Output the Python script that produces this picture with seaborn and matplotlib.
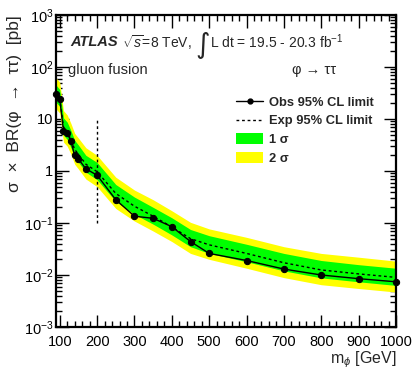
import numpy as np
import pandas as pd
import matplotlib
matplotlib.use("Agg")
import matplotlib.pyplot as plt
import seaborn as sns
from matplotlib.lines import Line2D
from matplotlib.patches import Patch
from matplotlib.ticker import FixedLocator, MultipleLocator, NullFormatter

# ---------------- data ----------------
mass = [90, 100, 110, 120, 130, 140, 150, 170, 200, 250, 300, 350, 400, 450, 500, 600, 700, 800, 900, 1000]
obs = [30, 24, 6.0, 5.4, 3.7, 2.0, 1.7, 1.1, 0.83, 0.28, 0.135, 0.123, 0.085, 0.044, 0.026, 0.019, 0.013, 0.010, 0.0085, 0.0074]
exp = [30, 25, 7.0, 5.8, 4.0, 2.6, 2.1, 1.35, 0.97, 0.37, 0.21, 0.135, 0.084, 0.050, 0.038, 0.026, 0.0172, 0.0125, 0.0105, 0.0090]
up2 = [62, 51, 14.5, 12, 8.2, 5.3, 4.3, 2.8, 2.0, 0.76, 0.43, 0.28, 0.172, 0.103, 0.077, 0.053, 0.035, 0.026, 0.022, 0.0185]
up1 = [45, 37, 10.5, 8.7, 6.0, 3.9, 3.15, 2.0, 1.46, 0.55, 0.315, 0.20, 0.126, 0.075, 0.057, 0.039, 0.026, 0.019, 0.0158, 0.0135]
dn1 = [21, 17.5, 4.9, 4.05, 2.8, 1.8, 1.47, 0.95, 0.68, 0.26, 0.147, 0.095, 0.059, 0.035, 0.026, 0.018, 0.012, 0.0088, 0.0074, 0.0063]
dn2 = [15.6, 13, 3.6, 3.0, 2.1, 1.35, 1.09, 0.70, 0.50, 0.19, 0.109, 0.070, 0.044, 0.026, 0.020, 0.0135, 0.0089, 0.0065, 0.0055, 0.0047]

split_mass = 200
split_range = [0.1, 10]

xticks = [100, 200, 300, 400, 500, 600, 700, 800, 900, 1000]
yticks = [1e-3, 1e-2, 1e-1, 1, 10, 1e2, 1e3]
ytick_labels = [r"$10^{-3}$", r"$10^{-2}$", r"$10^{-1}$", "1", "10", r"$10^{2}$", r"$10^{3}$"]

legend_labels = ["Obs 95% CL limit", "Exp 95% CL limit", "1 σ", "2 σ"]

df = pd.DataFrame({"mass": mass, "obs": obs, "exp": exp})

# ---------------- style ----------------
sns.set_style("ticks")
FONT = ["Liberation Sans", "DejaVu Sans"]
plt.rcParams["font.family"] = FONT
plt.rcParams["mathtext.fontset"] = "custom"
plt.rcParams["mathtext.rm"] = "Liberation Sans"
plt.rcParams["mathtext.it"] = "Liberation Sans:italic"
plt.rcParams["mathtext.bf"] = "Liberation Sans:bold"

GREEN = "#00ff00"
YELLOW = "#ffff00"

fig = plt.figure(figsize=(4.17, 3.68), dpi=100)
ax = fig.add_axes([56 / 417, 1 - 327 / 368, 340 / 417, 312 / 368])

ax.fill_between(mass, dn2, up2, color=YELLOW, linewidth=0, zorder=1)
ax.fill_between(mass, dn1, up1, color=GREEN, linewidth=0, zorder=2)

sns.lineplot(data=df, x="mass", y="exp", ax=ax, color="black", linewidth=1.0, zorder=3)
ax.lines[-1].set_linestyle((0, (2.0, 2.0)))
sns.lineplot(data=df, x="mass", y="obs", ax=ax, color="black", linewidth=1.0,
             marker="o", markersize=4.5, markeredgecolor="black", zorder=4)
ax.lines[-1].set_clip_on(False)

ax.plot([split_mass, split_mass], split_range, color="black", linewidth=1.0,
        linestyle=(0, (2.0, 2.0)), zorder=3)

ax.set_yscale("log")
ax.set_xlim(90, 1000)
ax.set_ylim(1e-3, 1e3)

ax.xaxis.set_major_locator(FixedLocator(xticks))
ax.xaxis.set_minor_locator(MultipleLocator(20))
ax.set_xticklabels([str(t) for t in xticks])
ax.yaxis.set_major_locator(FixedLocator(yticks))
ax.set_yticklabels(ytick_labels)
ax.yaxis.set_minor_locator(matplotlib.ticker.LogLocator(base=10, subs=np.arange(2, 10)))
ax.yaxis.set_minor_formatter(NullFormatter())

ax.tick_params(which="both", direction="in", top=True, right=True, width=1.0, colors="black")
ax.tick_params(which="major", length=9, labelsize=10.5)
ax.tick_params(axis="x", which="major", pad=6)
ax.tick_params(axis="y", which="major", pad=2)
ax.tick_params(which="minor", length=4.5)
for s in ax.spines.values():
    s.set_linewidth(1.6)
    s.set_color("black")

ax.set_xlabel(r"m$_{\phi}$ [GeV]", fontsize=11.5, loc="right", labelpad=0)
ax.set_ylabel("σ  ×  BR(φ  →  ττ)  [pb]", fontsize=12.5, loc="top", labelpad=1)

ax.text(0.041, 0.913, "ATLAS", transform=ax.transAxes, fontsize=10.5,
        fontweight="bold", fontstyle="italic", va="center", ha="left")
ax.text(0.194, 0.913, r"$\sqrt{s}$=8 TeV,", transform=ax.transAxes, fontsize=10,
        va="center", ha="left")
ax.text((195 - 56) / 340, 0.905, "∫", transform=ax.transAxes, fontsize=20,
        va="center", ha="left", family=["DejaVu Sans"])
ax.text((210 - 56) / 340, 0.913, r"L dt = 19.5 - 20.3 fb$^{-1}$",
        transform=ax.transAxes, fontsize=10, va="center", ha="left")
ax.text(0.035, 0.824, "gluon fusion", transform=ax.transAxes, fontsize=10.5,
        va="center", ha="left")
ax.text(0.694, 0.824, "φ → ττ", transform=ax.transAxes, fontsize=10.5,
        va="center", ha="left")

handles = [
    Line2D([], [], color="black", linewidth=1.0, marker="o", markersize=3.5),
    Line2D([], [], color="black", linewidth=1.0, linestyle=(0, (2.0, 2.0))),
    Patch(facecolor=GREEN, edgecolor="none"),
    Patch(facecolor=YELLOW, edgecolor="none"),
]
leg = ax.legend(handles, legend_labels, loc="upper left",
                bbox_to_anchor=((236 - 56) / 340, 1 - (96 - 15) / 312),
                frameon=False, prop={"weight": "bold", "size": 9.3, "family": FONT},
                handlelength=2.1, handleheight=0.9, handletextpad=0.45,
                labelspacing=0.45, borderaxespad=0, borderpad=0)

fig.savefig("out.png", dpi=100)
